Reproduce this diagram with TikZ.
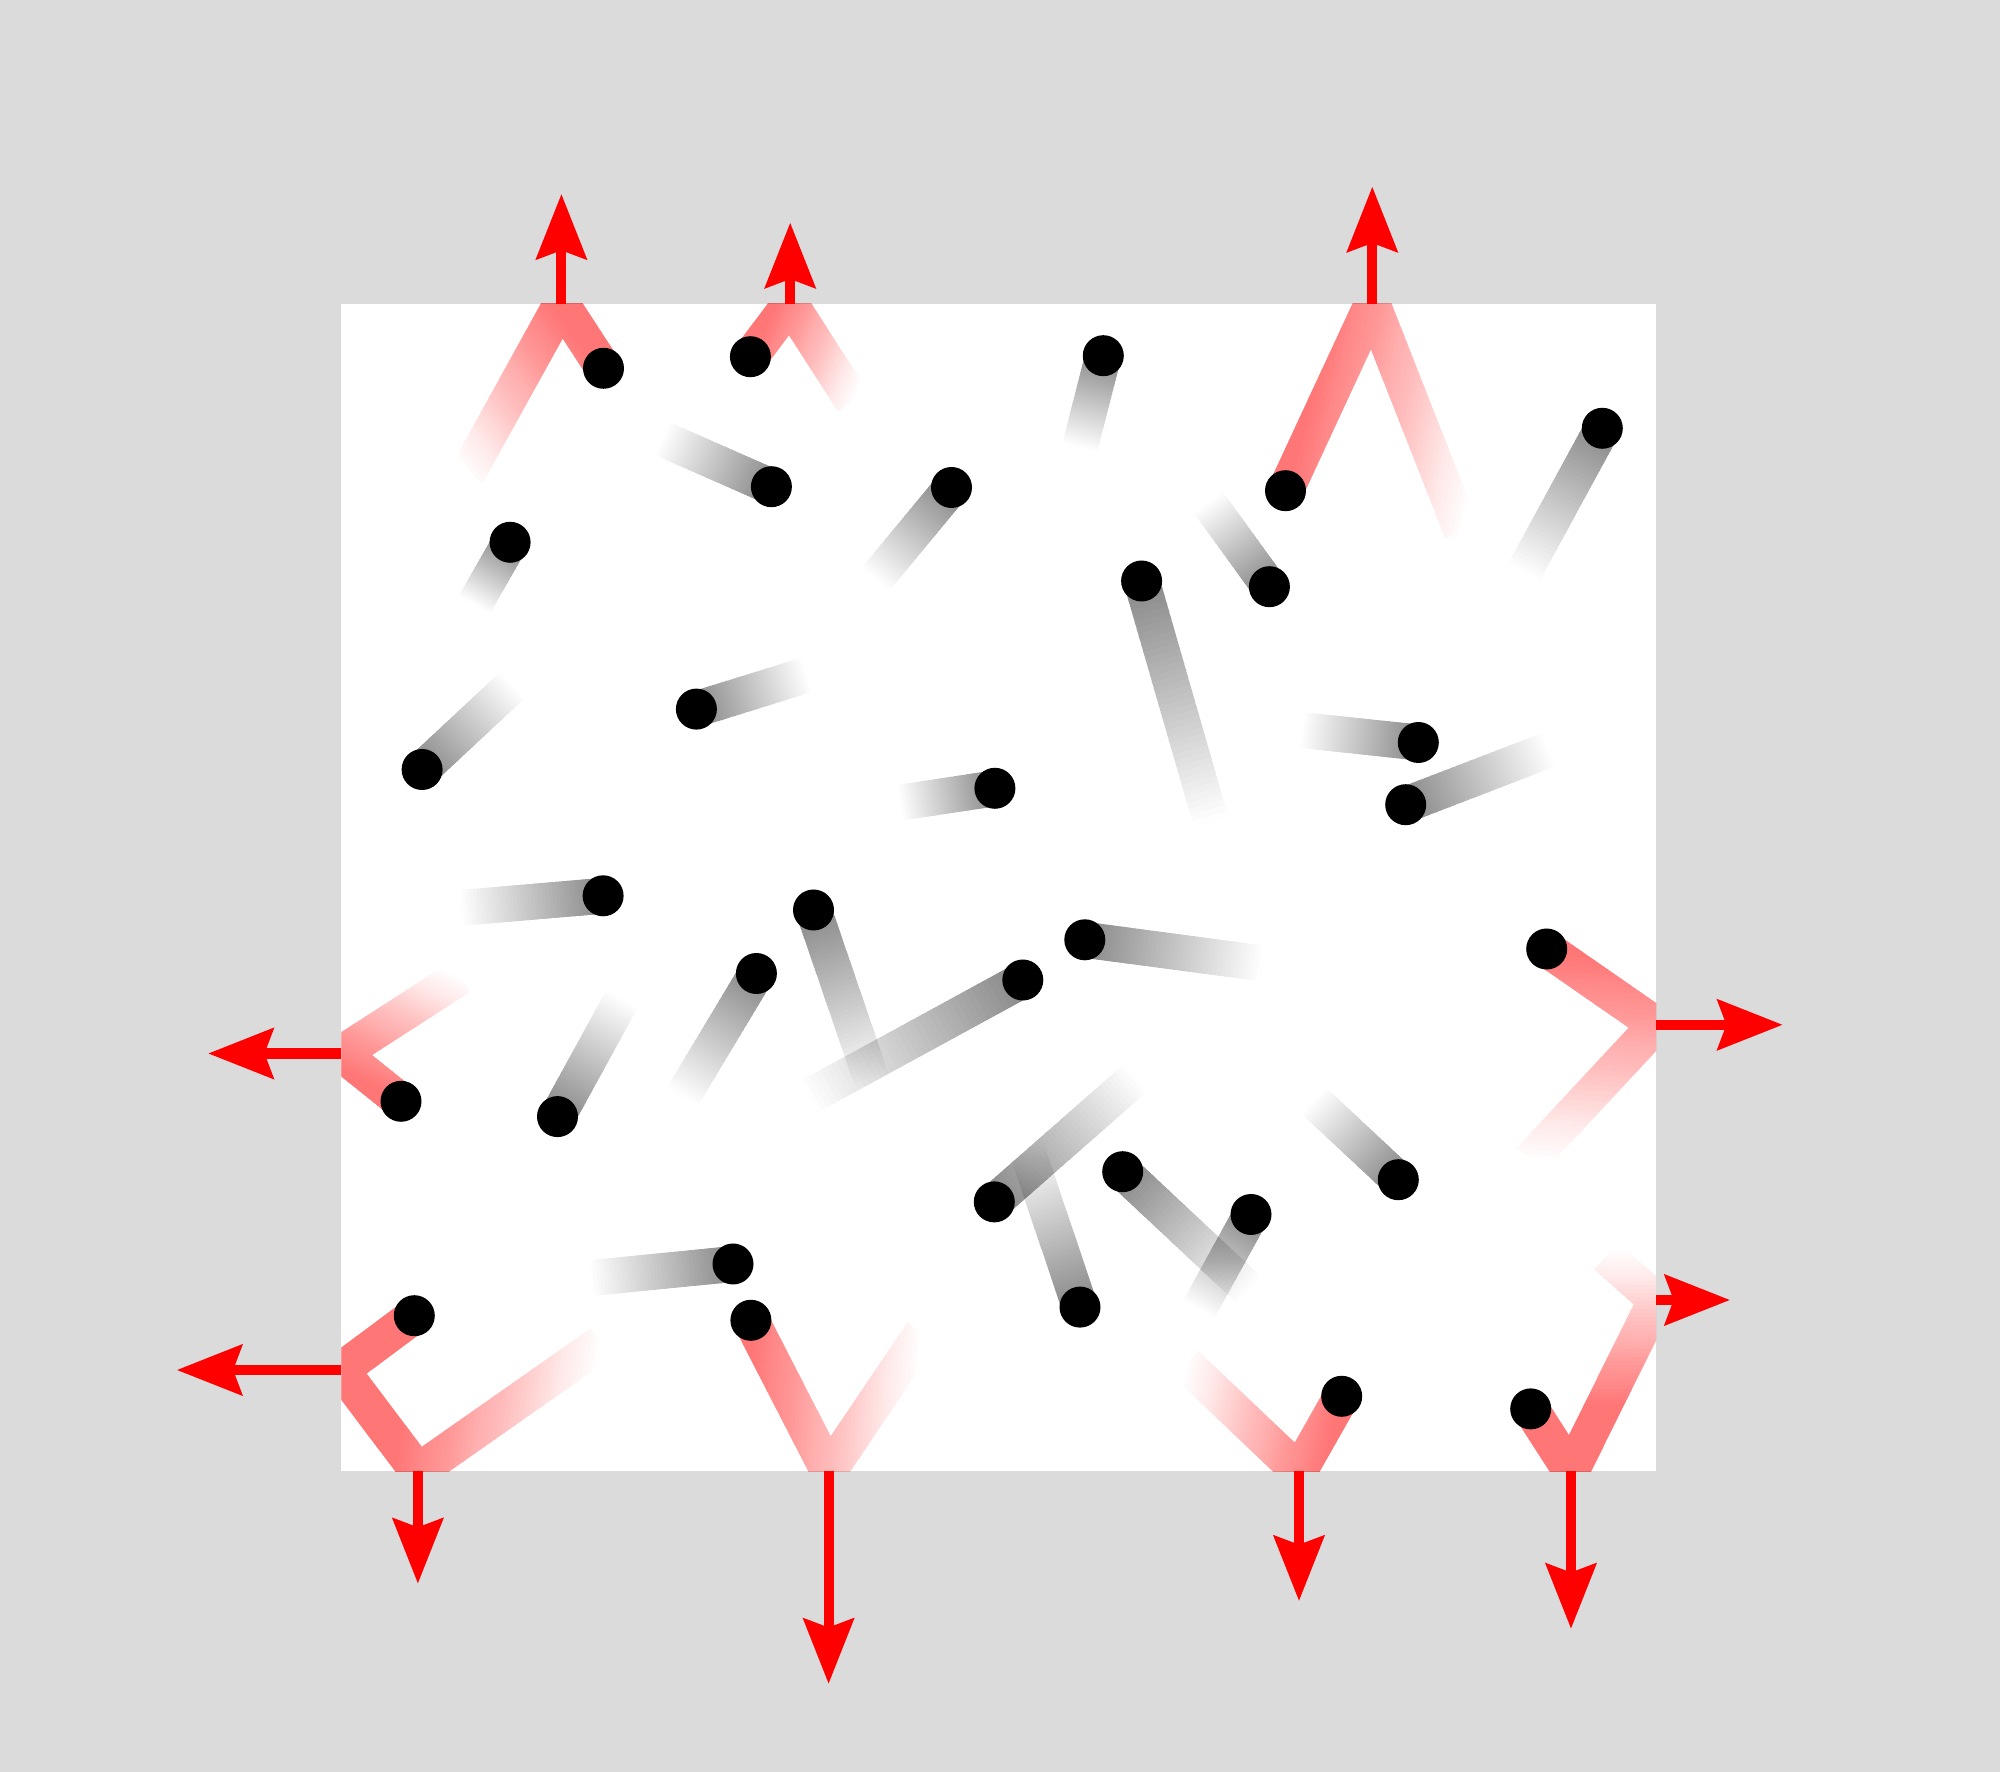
\documentclass[tikz,border=0pt]{standalone}
\usetikzlibrary{arrows.meta}
\definecolor{bggray}{RGB}{219,219,219}
\tikzset{
  redpath/.style={line width=0.288cm, line join=miter, line cap=butt},
  push/.style={draw=red, line width=0.08cm, -{Stealth[length=0.52cm, width=0.4cm, inset=0.07cm]}},
  particle/.style={fill=black},
}
% red trail: ball x,y ; gradient end x,y ; path of named coordinates
% nested layers whose opacities add up to a linear ramp (0.5 at the ball, 0 at the end)
\newcommand\redtrail[5]{%
  \pgfmathsetmacro\rtang{atan2(-((#4)-(#2)),(#3)-(#1))}%
  \pgfmathsetmacro\rtlen{veclen((#3)-(#1),(#4)-(#2))}%
  \foreach \j in {1,...,40}{%
    \pgfmathsetmacro\rtcut{(41-\j)/40*\rtlen}%
    \pgfmathsetmacro\rta{1-(1-0.0125*(\j-0.5))/(1-0.0125*max(\j-1.5,0))}%
    \begin{scope}[shift={(#1,-#2)},rotate=\rtang]
      \clip (-900,-900) rectangle (\rtcut,900);
      \draw[redpath,draw=red,draw opacity=\rta] #5;
    \end{scope}}}
% gray trail: ball x,y ; tail x,y  (0.4 black at the ball, 0 at the end)
\newcommand\graytrail[4]{%
  \pgfmathsetmacro\gtang{atan2(-((#4)-(#2)),(#3)-(#1))}%
  \pgfmathsetmacro\gtlen{veclen((#3)-(#1),(#4)-(#2))}%
  \begin{scope}[shift={(#1,-#2)},rotate=\gtang]
    \foreach \j in {1,...,40}{%
      \pgfmathsetmacro\gtcut{(41-\j)/40*\gtlen}%
      \pgfmathsetmacro\gta{1-(1-0.01*(\j-0.5))/(1-0.01*max(\j-1.5,0))}%
      \fill[black,fill opacity=\gta] (0,-18) rectangle (\gtcut,18);}
  \end{scope}}
\begin{document}
\begin{tikzpicture}[x=0.008cm,y=0.008cm]
\fill[bggray] (0,0) rectangle (2000,-1772);
\path[use as bounding box] (0,0) rectangle (2000,-1772);
\fill[white] (341.3,-303.7) rectangle (1656,-1471.5);
% named points
\coordinate (b1) at (603.5,-368.3);  \coordinate (w1) at (561.4,-303.7);  \coordinate (t1) at (467.2,-474);
\coordinate (b2) at (750.4,-356.7);  \coordinate (w2) at (790.2,-303.7);  \coordinate (t2) at (853,-401.7);
\coordinate (b3) at (1285.5,-490.7); \coordinate (w3) at (1372.3,-303.7); \coordinate (t3) at (1462,-532);
\coordinate (b4) at (401,-1101.3);   \coordinate (w4) at (341.3,-1053.5); \coordinate (t4) at (460,-977);
\coordinate (b5) at (1546.7,-949);   \coordinate (w5) at (1656,-1024.8);  \coordinate (t5) at (1530,-1160);
\coordinate (b6) at (414.3,-1315.7); \coordinate (w6a) at (341.3,-1370);  \coordinate (w6b) at (417.9,-1471.5); \coordinate (t6) at (600.9,-1343.2);
\coordinate (b7) at (750.9,-1320.3); \coordinate (w7) at (828.6,-1471.5); \coordinate (t7) at (922,-1333);
\coordinate (b8) at (1341.7,-1396.3);\coordinate (w8) at (1299,-1471.5);  \coordinate (t8) at (1186,-1364);
\coordinate (b9) at (1530.7,-1408.9);\coordinate (w9a) at (1571,-1471.5); \coordinate (w9b) at (1656,-1300); \coordinate (t9) at (1606,-1256);
% arrow tips
\coordinate (a1) at (561.4,-194);
\coordinate (a2) at (790.2,-222.7);
\coordinate (a3) at (1372.3,-186.7);
\coordinate (a4) at (208.2,-1053.5);
\coordinate (a5) at (1782.7,-1024.8);
\coordinate (a6a) at (176.8,-1370);
\coordinate (a6b) at (417.9,-1583.6);
\coordinate (a7) at (828.6,-1683.8);
\coordinate (a8) at (1299,-1601);
\coordinate (a9a) at (1571,-1628.8);
\coordinate (a9b) at (1730,-1300);
\begin{scope}
  \clip (341.3,-303.7) rectangle (1656,-1471.5);
  \redtrail{603.5}{368.3}{467.2}{474}{(b1)--(w1)--(t1)}
  \redtrail{750.4}{356.7}{853}{401.7}{(b2)--(w2)--(t2)}
  \redtrail{1285.5}{490.7}{1462}{532}{(b3)--(w3)--(t3)}
  \redtrail{401}{1101.3}{460}{977}{(b4)--(w4)--(t4)}
  \redtrail{1546.7}{949}{1530}{1160}{(b5)--(w5)--(t5)}
  \redtrail{414.3}{1315.7}{600.9}{1343.2}{(b6)--(w6a)--(w6b)--(t6)}
  \redtrail{750.9}{1320.3}{922}{1333}{(b7)--(w7)--(t7)}
  \redtrail{1341.7}{1396.3}{1186}{1364}{(b8)--(w8)--(t8)}
  \redtrail{1530.7}{1408.9}{1530.7}{1250}{(b9)--(w9a)--(w9b)--(t9)}
  \graytrail{771.4}{486.7}{661.6}{438.3}
  \graytrail{510.1}{542.3}{474.1}{605}
  \graytrail{951.5}{487.5}{874.9}{580}
  \graytrail{1103.3}{355.7}{1079.6}{448.3}
  \graytrail{1269.4}{586.7}{1207.8}{501.7}
  \graytrail{1602.3}{428.3}{1523.3}{573.3}
  \graytrail{1141.6}{581}{1211.1}{822}
  \graytrail{422.1}{769.5}{513.5}{684.2}
  \graytrail{696.4}{709.1}{807.4}{674.6}
  \graytrail{1418.3}{742.5}{1301}{730}
  \graytrail{1405.7}{804.7}{1550}{749.2}
  \graytrail{994.9}{788.3}{899.2}{802.8}
  \graytrail{603.1}{895.8}{460}{908}
  \graytrail{557.5}{1116.6}{622.6}{998}
  \graytrail{756.4}{973.5}{681.9}{1097.5}
  \graytrail{813.5}{910}{872.5}{1082.2}
  \graytrail{1022.8}{980}{807.4}{1097.5}
  \graytrail{1084.8}{939.8}{1262.8}{963.5}
  \graytrail{1398.3}{1179.7}{1313}{1100}
  \graytrail{994.3}{1201.9}{1136.7}{1076.8}
  \graytrail{1080}{1307.1}{1027}{1150}
  \graytrail{1122.7}{1171.7}{1250}{1291}
  \graytrail{1251}{1214.5}{1198.3}{1310.2}
  \graytrail{733}{1264}{589.7}{1278.2}
  \foreach \bx/\by in {603.5/368.3, 750.4/356.7, 1285.5/490.7, 401/1101.3, 1546.7/949,
      414.3/1315.7, 750.9/1320.3, 1341.7/1396.3, 1530.7/1408.9,
      771.4/486.7, 510.1/542.3, 951.5/487.5, 1103.3/355.7, 1269.4/586.7, 1602.3/428.3,
      1141.6/581, 422.1/769.5, 696.4/709.1, 1418.3/742.5, 1405.7/804.7, 994.9/788.3,
      603.1/895.8, 557.5/1116.6, 756.4/973.5, 813.5/910, 1022.8/980, 1084.8/939.8,
      1398.3/1179.7, 994.3/1201.9, 1080/1307.1, 1122.7/1171.7, 1251/1214.5, 733/1264}
    \fill[particle] (\bx,-\by) circle (20.5);
\end{scope}
% momentum transfer arrows
\draw[push] (w1) -- (a1);
\draw[push] (w2) -- (a2);
\draw[push] (w3) -- (a3);
\draw[push] (w4) -- (a4);
\draw[push] (w5) -- (a5);
\draw[push] (w6a) -- (a6a);
\draw[push] (w6b) -- (a6b);
\draw[push] (w7) -- (a7);
\draw[push] (w8) -- (a8);
\draw[push] (w9a) -- (a9a);
\draw[push] (w9b) -- (a9b);
\end{tikzpicture}
\end{document}
